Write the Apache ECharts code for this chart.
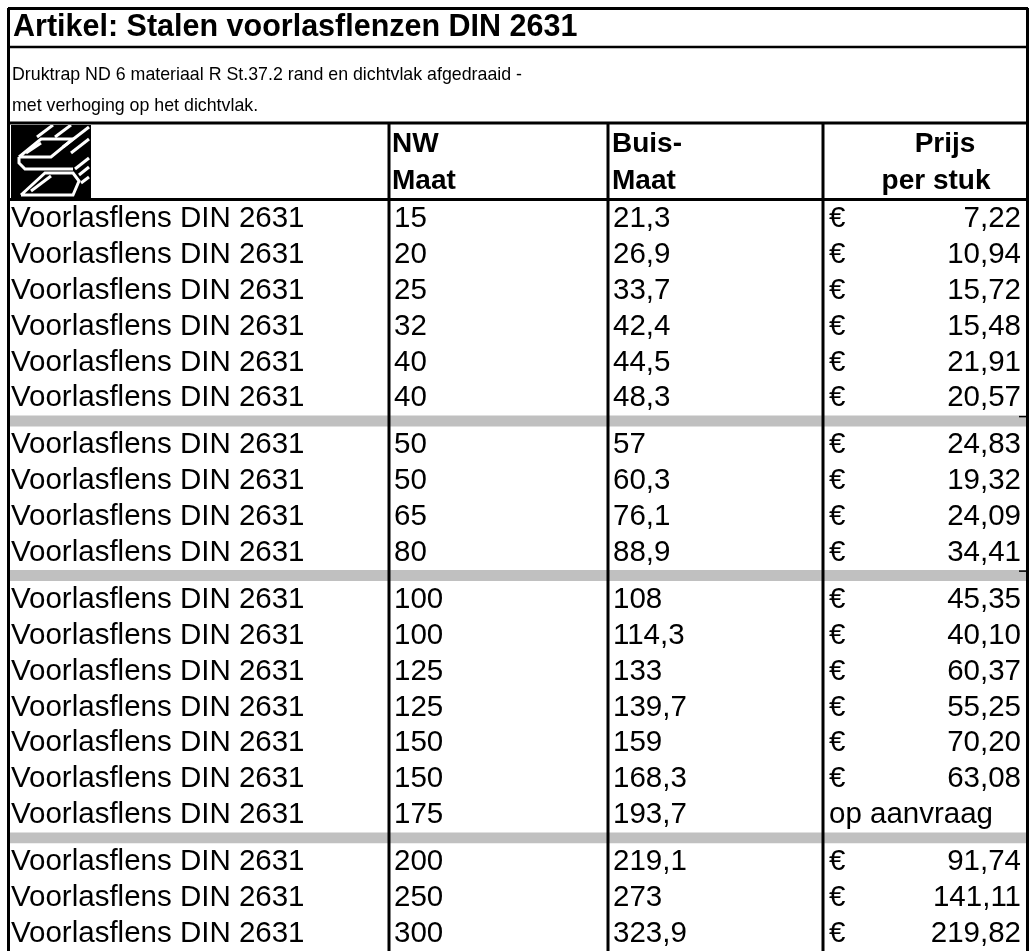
<!DOCTYPE html>
<html>
<head>
<meta charset="utf-8">
<title>Stalen voorlasflenzen DIN 2631</title>
<script src="https://cdn.jsdelivr.net/npm/echarts@6/dist/echarts.min.js"></script>
<style>
  html, body { margin: 0; padding: 0; background: #fff; }
  #main { width: 1031px; height: 951px; }
</style>
</head>
<body>
<div id="main"></div>
<script>
// teksten
var titel = 'Artikel: Stalen voorlasflenzen DIN 2631'
var omschrijving = ['Druktrap ND 6 materiaal R St.37.2 rand en dichtvlak afgedraaid -', 'met verhoging op het dichtvlak.']
var kolomKoppen = [['NW', 'Maat'], ['Buis-', 'Maat'], ['Prijs', 'per stuk']]
var artikelNaam = 'Voorlasflens DIN 2631'
var valuta = '€'
var geenPrijs = 'op aanvraag'

// tabel data
var nwMaat = [15, 20, 25, 32, 40, 40, 50, 50, 65, 80, 100, 100, 125, 125, 150, 150, 175, 200, 250, 300]
var buisMaat = [21.3, 26.9, 33.7, 42.4, 44.5, 48.3, 57, 60.3, 76.1, 88.9, 108, 114.3, 133, 139.7, 159, 168.3, 193.7, 219.1, 273, 323.9]
var prijs = [7.22, 10.94, 15.72, 15.48, 21.91, 20.57, 24.83, 19.32, 24.09, 34.41, 45.35, 40.10, 60.37, 55.25, 70.20, 63.08, null, 91.74, 141.11, 219.82]
// aantal rijen per blok (grijze balk tussen de blokken)
var groepen = [6, 4, 7, 3]

// opmaak
var FONT = '"Liberation Sans", Arial, Helvetica, sans-serif'
var rijFont = '29.5px ' + FONT
var kolomLijnen = [389, 608, 823]
var sepHoogte = 0.3 // hoogte grijze balk in rij-eenheden

// eerste rij van elk blok (behalve het eerste)
var blokStart = []
var som = 0
groepen.forEach(function (n, g) {
  som += n
  if (g < groepen.length - 1) blokStart.push(som)
})

function rijTop(i) {
  var voor = blokStart.filter(function (s) { return s <= i }).length
  return i + voor * sepHoogte
}

function nl(v, dec) {
  return (dec == null ? String(v) : v.toFixed(dec)).replace('.', ',')
}

function tekst(t, x, y, align, font) {
  return {
    type: 'text',
    z: 50,
    style: {
      text: t, x: x, y: y, fill: '#000', font: font || rijFont,
      align: align || 'left', verticalAlign: 'middle',
      textAlign: align || 'left', textVerticalAlign: 'middle'
    }
  }
}

function renderRij(params, api) {
  var i = params.dataIndex
  var mid = api.coord([0, rijTop(i) + 0.52])[1]
  var x = function (v) { return api.coord([v, 0])[0] }
  var kids = [
    tekst(artikelNaam, x(3), mid),
    tekst(nl(nwMaat[i]), x(386), mid),
    tekst(nl(buisMaat[i]), x(605), mid)
  ]
  if (prijs[i] == null) {
    kids.push(tekst(geenPrijs, x(821), mid))
  } else {
    kids.push(tekst(valuta, x(821), mid))
    kids.push(tekst(nl(prijs[i], 2), x(1013), mid, 'right'))
  }
  return { type: 'group', children: kids }
}

function renderBalk(params, api) {
  var s = blokStart[params.dataIndex]
  var y0 = s + params.dataIndex * sepHoogte
  var p0 = api.coord([0, y0])
  var p1 = api.coord([1020, y0 + sepHoogte])
  var kids = [{
    type: 'rect',
    shape: { x: p0[0], y: p0[1], width: p1[0] - p0[0], height: p1[1] - p0[1] },
    style: { fill: '#c0c0c0' }
  }]
  // streepje rechts onder een prijs
  if (prijs[s - 1] != null) {
    kids.push({
      type: 'line',
      shape: { x1: p1[0] - 9, y1: p0[1] + 1, x2: p1[0] - 2, y2: p0[1] + 1 },
      style: { stroke: '#000', lineWidth: 1.5 }
    })
  }
  return { type: 'group', children: kids }
}

function lijn(x1, y1, x2, y2, w) {
  return { type: 'line', z: 100, shape: { x1: x1, y1: y1, x2: x2, y2: y2 }, style: { stroke: '#000', lineWidth: w || 3 } }
}

// logo (wit op zwart), lokale coordinaten in een vlak van 80 x 73
var logoLijnen = [
  [[8, 32], [30, 14], [62, 14], [40, 32], [8, 32]],
  [[15, 28], [30, 18]],
  [[26, 12], [42, 0]],
  [[44, 12], [60, 0]],
  [[52, 22], [78, 2]],
  [[60, 28], [78, 14]],
  [[8, 32], [8, 38], [14, 44], [62, 44]],
  [[10, 70], [34, 48], [62, 48], [68, 56], [62, 70], [10, 70]],
  [[20, 66], [40, 51]],
  [[64, 44], [78, 33]],
  [[70, 58], [78, 52]],
  [[68, 50], [78, 42]]
]

var elementen = [
  // rand en lijnen
  lijn(8, 8.5, 1028, 8.5),
  lijn(8.5, 8, 8.5, 951),
  lijn(1027.5, 8, 1027.5, 951),
  lijn(8, 47, 1028, 47, 2.5),
  lijn(8, 123, 1028, 123),
  lijn(8, 199.5, 1028, 199.5)
]
kolomLijnen.forEach(function (x) { elementen.push(lijn(x, 123, x, 951)) })

// titel en omschrijving
elementen.push(tekst(titel, 13, 28, 'left', 'bold 30.5px ' + FONT))
elementen.push(tekst(omschrijving[0], 12, 75, 'left', '17.8px ' + FONT))
elementen.push(tekst(omschrijving[1], 12, 106, 'left', '17.8px ' + FONT))

// kolomkoppen
var kopFont = 'bold 28px ' + FONT
elementen.push(tekst(kolomKoppen[0][0], 392, 144, 'left', kopFont))
elementen.push(tekst(kolomKoppen[0][1], 392, 181, 'left', kopFont))
elementen.push(tekst(kolomKoppen[1][0], 612, 144, 'left', kopFont))
elementen.push(tekst(kolomKoppen[1][1], 612, 181, 'left', kopFont))
elementen.push(tekst(kolomKoppen[2][0], 945, 144, 'center', kopFont))
elementen.push(tekst(kolomKoppen[2][1], 936, 181, 'center', kopFont))

// logo
var logoKids = [{ type: 'rect', shape: { x: 0, y: 0, width: 80, height: 73 }, style: { fill: '#000' } }]
logoLijnen.forEach(function (pts) {
  logoKids.push({ type: 'polyline', shape: { points: pts }, style: { stroke: '#fff', lineWidth: 3, fill: null } })
})
elementen.push({ type: 'group', x: 11, y: 125, children: logoKids, clipPath: { type: 'rect', shape: { x: 0, y: 0, width: 80, height: 73 } } })

var myChart = echarts.init(document.getElementById('main'))
var options = {
  backgroundColor: '#fff',
  animation: false,
  grid: { left: 8, top: 200, width: 1020, height: 751 },
  xAxis: { type: 'value', min: 0, max: 1020, show: false },
  yAxis: { type: 'value', min: 0, max: nwMaat.length + blokStart.length * sepHoogte, inverse: true, show: false },
  graphic: { elements: elementen },
  series: [
    {
      type: 'custom',
      renderItem: renderBalk,
      data: blokStart.map(function (s) { return [0, s] }),
      z: 1,
      silent: true
    },
    {
      type: 'custom',
      renderItem: renderRij,
      data: nwMaat.map(function (nw, i) { return [i, nw, buisMaat[i], prijs[i] == null ? '-' : prijs[i]] }),
      z: 2,
      silent: true
    }
  ]
}
myChart.setOption(options)
</script>
</body>
</html>
